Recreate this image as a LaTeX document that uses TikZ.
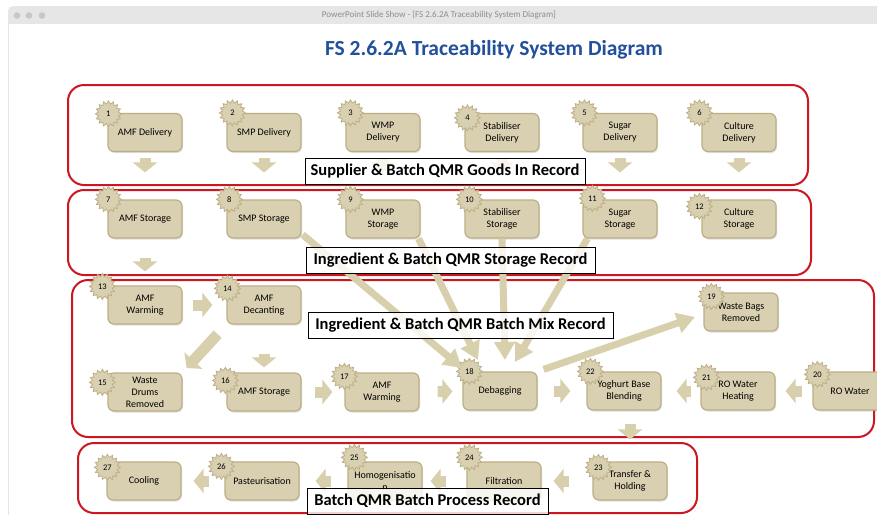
\documentclass[tikz,border=0pt]{standalone}
\usepackage{fontspec}
\setmainfont{Carlito}
\usetikzlibrary{arrows.meta,shapes.geometric,shadows}

\definecolor{stagefill}{HTML}{D9D0B1}
\definecolor{stageedge}{HTML}{BDAF85}
\definecolor{arrowfill}{HTML}{D8CFAD}
\definecolor{framered}{HTML}{CC1620}
\definecolor{titleblue}{HTML}{23509A}
\definecolor{barfill}{HTML}{E6E6E6}

\tikzset{
	stage/.style={draw=stageedge,line width=1.2pt,fill=stagefill,rounded corners=6pt,
		minimum width=74pt,minimum height=38pt,align=center,inner sep=1pt,
		font=\fontsize{10}{12}\selectfont,
		drop shadow={shadow xshift=1pt,shadow yshift=-1.5pt,opacity=0.25}},
	badge/.style={star,star points=16,star point ratio=1.3,draw=stageedge,line width=0.8pt,
		fill=stagefill,minimum size=26pt,inner sep=0pt,font=\fontsize{8.5}{9}\selectfont},
	record/.style={draw=black,line width=1pt,fill=white,fill opacity=0.8,text opacity=1,
		font=\fontsize{16.5}{18}\selectfont\bfseries,minimum height=26pt,inner sep=3pt},
	frame/.style={draw=framered,line width=2pt,rounded corners=16pt},
	flow/.style={draw=arrowfill,line width=11pt,-{Triangle[width=24pt,length=10pt]}},
	feed/.style={draw=arrowfill,line width=7pt,-{Triangle[width=20pt,length=18pt]}},
}

\begin{document}
\begin{tikzpicture}[x=1pt,y=-1pt]
	\useasboundingbox (0,0) rectangle (877,515);
	
	% window and title bar
	\fill[white] (0,0) rectangle (877,515);
	\fill[barfill,rounded corners=5pt] (8,6) rectangle (900,40);
	\fill[white] (8,24) rectangle (900,530);
	\draw[black!10] (8,24) -- (8,515);
	\foreach \i in {17,29,42} \fill[black!22] (\i,15.5) circle (3.3pt);
	\node[font=\fontsize{9}{10}\selectfont,text=black!45] (bar) at (439,15.5) {PowerPoint Slide Show - [FS 2.6.2A Traceability System Diagram]};
	
	\node[font=\fontsize{21.5}{24}\selectfont\bfseries,text=titleblue] (title) at (494,50) {FS 2.6.2A Traceability System Diagram};
	
	% red frames
	\draw[frame] (68,85) rectangle (808,185);
	\draw[frame] (68,190) rectangle (811,275);
	\draw[frame] (72,280) rectangle (874,437);
	\draw[frame] (78,443) rectangle (697,513);
	
	% goods in
	\node[stage] (n1) at (145,132.5) {AMF Delivery};
	\node[stage] (n2) at (264,132.5) {SMP Delivery};
	\node[stage] (n3) at (383,132.5) {WMP\\Delivery};
	\node[stage] (n4) at (502,132.5) {Stabiliser\\Delivery};
	\node[stage] (n5) at (620,132.5) {Sugar\\Delivery};
	\node[stage] (n6) at (739,132.5) {Culture\\Delivery};
	
	% storage
	\node[stage] (n7) at (145,219) {AMF Storage};
	\node[stage] (n8) at (264,219) {SMP Storage};
	\node[stage] (n9) at (383,219) {WMP\\Storage};
	\node[stage] (n10) at (502,219) {Stabiliser\\Storage};
	\node[stage] (n11) at (620,219) {Sugar\\Storage};
	\node[stage] (n12) at (739,219) {Culture\\Storage};
	
	% batch mix
	\node[stage] (n13) at (145,305) {AMF\\Warming};
	\node[stage] (n14) at (264,305) {AMF\\Decanting};
	\node[stage] (n19) at (741,312) {Waste Bags\\Removed};
	\node[stage] (n15) at (145,392) {Waste\\Drums\\Removed};
	\node[stage] (n16) at (264,392) {AMF Storage};
	\node[stage] (n17) at (382,392) {AMF\\Warming};
	\node[stage] (n18) at (500,391) {Debagging};
	\node[stage] (n22) at (624,391) {Yoghurt Base\\Blending};
	\node[stage] (n21) at (738,391) {RO Water\\Heating};
	\node[stage] (n20) at (850,391) {RO Water};
	
	% batch process
	\node[stage] (n23) at (630,481) {Transfer \&\\Holding};
	\node[stage] (n24) at (504,481) {Filtration};
	\node[stage] (n25) at (385,481) {Homogenisatio\\n};
	\node[stage] (n26) at (262,481) {Pasteurisation};
	\node[stage] (n27) at (144,481) {Cooling};
	
	% numbered badges
	\foreach \n/\dx/\dy in {1/1/1,2/6/0,3/5/0,4/3/5,5/2/0,6/-2/0,7/1/0,8/3/0,9/5/0,10/5/0,
		11/10/-1,12/-2/7,13/-5/1,14/1/3,15/-5/10,16/-1/8,17/0/4,18/7/0,19/8/4,20/5/3,
		21/6/6,22/4/0,23/6/6,24/3/-4,25/7/-4,26/-3/5,27/1/6}
		\node[badge] (s\n) at ([shift={(\dx,\dy)}]n\n.north west) {\n};
	
	% flow arrows
	\foreach \a/\b in {1/7,2/8,3/9,4/10,5/11,6/12}
		\draw[flow,shorten <=6pt,shorten >=27pt] (n\a) -- (n\b);
	\draw[flow,shorten <=19pt,shorten >=14pt] (n7) -- (n13);
	\draw[flow,shorten <=10pt,shorten >=14pt] (n13) -- (n14);
	\draw[flow,shorten <=29pt,shorten >=5pt] (n14) -- (n16);
	\draw[flow,shorten <=13pt,shorten >=6pt] (n14.south west) -- (n15.north east);
	\draw[flow,shorten <=13pt,shorten >=12pt] (n16) -- (n17);
	\draw[flow,shorten <=18pt,shorten >=10pt] (n17) -- (n18);
	\draw[flow,shorten <=16pt,shorten >=16pt] (n18) -- (n22);
	\draw[flow,shorten <=9pt,shorten >=15pt] (n21) -- (n22);
	\draw[flow,shorten <=10pt,shorten >=10pt] (n20) -- (n21);
	\draw[flow,shorten <=13pt,shorten >=22pt] (n22.south -| n23.north) -- (n23.north);
	\draw[flow,shorten <=23pt,shorten >=12pt] (n23) -- (n24);
	\draw[flow,shorten <=20pt,shorten >=8pt] (n24) -- (n25);
	\draw[flow,shorten <=16pt,shorten >=16pt] (n25) -- (n26);
	\draw[flow,shorten <=15pt,shorten >=12pt] (n26) -- (n27);
	
	% feed arrows into debagging
	\coordinate (m8) at (462,368);
	\coordinate (m9) at (478,360);
	\coordinate (m10) at (505,360);
	\coordinate (m11) at (515,362);
	\coordinate (m19) at (695,317);
	\draw[feed] ([shift={(1,-4)}]n8.south east) -- (m8);
	\draw[feed] ([xshift=-2pt]n9.south east) -- (m9);
	\draw[feed] (n10.south) -- (m10);
	\draw[feed] ([xshift=5pt]n11.south west) -- (m11);
	\draw[feed] ([shift={(6,-2)}]n18.north east) -- (m19);
	
	% record labels
	\node[record,minimum width=280pt] (rec1) at (445,171) {Supplier \& Batch QMR Goods In Record};
	\node[record,minimum width=289pt] (rec2) at (450.5,260.5) {Ingredient \& Batch QMR Storage Record};
	\node[record,minimum width=305pt] (rec3) at (460.5,325) {Ingredient \& Batch QMR Batch Mix Record};
	\node[record,minimum width=241pt] (rec4) at (427.5,501) {Batch QMR Batch Process Record};
	
\end{tikzpicture}
\end{document}
